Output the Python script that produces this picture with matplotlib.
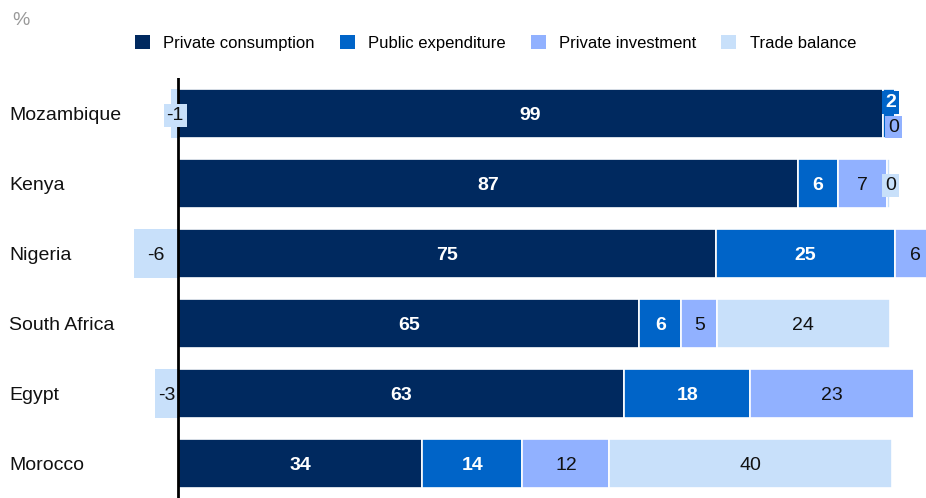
import matplotlib
matplotlib.use('Agg')
import matplotlib.pyplot as plt
from matplotlib.patches import Patch
import numpy as np

plt.rcParams['font.family'] = ['Liberation Sans', 'DejaVu Sans']

# values (labels shown rounded)
countries = ['Mozambique', 'Kenya', 'Nigeria', 'South Africa', 'Egypt', 'Morocco']
consumption = [98.9, 86.9, 75.4, 64.7, 62.6, 34.2]
public = [1.7, 5.7, 25.1, 5.9, 17.6, 14.1]
investment = [0.3, 6.9, 5.7, 5.0, 23.0, 12.2]
trade = [-1.0, 0.4, -6.2, 24.2, -3.2, 39.6]

series_names = ['Private consumption', 'Public expenditure', 'Private investment', 'Trade balance']
colors = ['#00295f', '#0064c8', '#91b1ff', '#c8e0fa']
label_colors = ['white', 'white', '#111111', '#111111']
label_weights = ['bold', 'bold', 'normal', 'normal']

fig = plt.figure(figsize=(9.26, 4.98), dpi=100)
ax = fig.add_axes([0.1422, 0.0, 0.8578, 0.843])

y = np.arange(len(countries))
cons = np.array(consumption)
pub = np.array(public)
inv = np.array(investment)
trd = np.array(trade)

pos_trade = np.where(trd > 0, trd, 0)
neg_trade = np.where(trd < 0, trd, 0)

lefts = [np.zeros(len(y)), cons, cons + pub]
widths = [cons, pub, inv]
bh = 0.7
for i in range(3):
    ax.barh(y, widths[i], left=lefts[i], height=bh, color=colors[i],
            edgecolor='white', linewidth=1.2, zorder=2)
# trade balance: positive stacks at the end, negative goes left of zero
ax.barh(y, pos_trade, left=cons + pub + inv, height=bh, color=colors[3],
        edgecolor='white', linewidth=1.2, zorder=2)
ax.barh(y, neg_trade, left=0, height=bh, color=colors[3],
        edgecolor='white', linewidth=0, zorder=2)

ax.axvline(0, color='black', lw=2, zorder=5)

# labels
all_vals = [cons, pub, inv, trd]
all_lefts = [np.zeros(len(y)), cons, cons + pub, cons + pub + inv]
# small segments get a coloured box and a nudge: (row, series) -> (x, dy)
special = {(0, 1): (99.9, -0.18), (0, 2): (100.3, 0.17),
           (1, 3): (99.9, 0.0), (0, 3): (-0.4, 0.0)}
for s in range(4):
    for r in range(len(y)):
        v = all_vals[s][r]
        txt = f"{v:.0f}"
        if s == 3 and v < 0:
            xc = v / 2
        else:
            xc = all_lefts[s][r] + v / 2
        dy = 0
        bbox = None
        if (r, s) in special:
            xc, dy = special[(r, s)]
            bbox = dict(boxstyle='square,pad=0.15', fc=colors[s], ec='none')
        ax.text(xc, r + dy, txt, ha='center', va='center_baseline', fontsize=14,
                color=label_colors[s], fontweight=label_weights[s],
                bbox=bbox, zorder=6, clip_on=False)

ax.set_xlim(-6.5, 104.9)
ax.set_ylim(5.5, -0.5)
ax.set_xticks([])
ax.set_yticks(y)
ax.set_yticklabels(countries, fontsize=14, ha='left', va='center_baseline',
                   color='#111111')
ax.tick_params(axis='y', length=0, pad=88)
for sp in ax.spines.values():
    sp.set_visible(False)

fig.text(12 / 926, 1 - 20 / 498, '%', fontsize=14, color='#999999',
         ha='left', va='center')

handles = [Patch(facecolor=c, edgecolor='none') for c in colors]
fig.legend(handles, series_names, loc='center left',
           bbox_to_anchor=(135 / 926, 1 - 43 / 498), ncol=4, frameon=False,
           fontsize=12, handlelength=0.9, handleheight=0.9, handletextpad=0.8,
           columnspacing=1.5, borderpad=0, borderaxespad=0)

fig.savefig('out.png', dpi=100)
